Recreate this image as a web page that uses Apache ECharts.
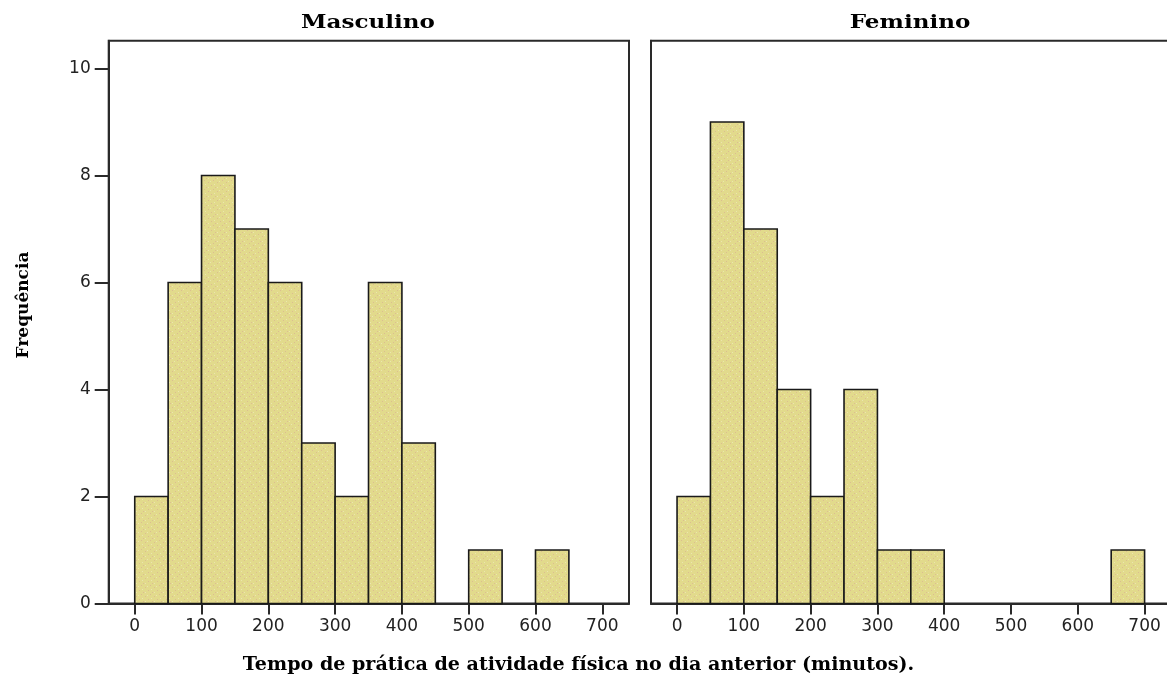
<!DOCTYPE html>
<html>
<head>
<meta charset="utf-8">
<script src="https://cdn.jsdelivr.net/npm/echarts@6/dist/echarts.min.js"></script>
<style>html,body{margin:0;padding:0;background:#fff}#c{width:1167px;height:677px}</style>
</head>
<body>
<div id="c"></div>
<script>
// ---- data ----
const panelTitles = ['Masculino', 'Feminino'];
const binLow  = [0, 50, 100, 150, 200, 250, 300, 350, 400, 450, 500, 550, 600, 650];
const binHigh = [50, 100, 150, 200, 250, 300, 350, 400, 450, 500, 550, 600, 650, 700];
const countsMasculino = [2, 6, 8, 7, 6, 3, 2, 6, 3, 0, 1, 0, 1, 0];
const countsFeminino  = [2, 9, 7, 4, 2, 4, 1, 1, 0, 0, 0, 0, 0, 1];
const xTicks = [0, 100, 200, 300, 400, 500, 600, 700];
const yTicks = [0, 2, 4, 6, 8, 10];
const xTitle = 'Tempo de prática de atividade física no dia anterior (minutos).';
const yTitle = 'Frequência';

// ---- pattern fill (dotted yellow) ----
function makePattern() {
  const cv = document.createElement('canvas');
  cv.width = 9; cv.height = 9;
  const g = cv.getContext('2d');
  g.fillStyle = 'rgb(226,218,140)';
  g.fillRect(0, 0, 9, 9);
  g.fillStyle = 'rgba(215,165,150,0.55)';
  g.fillRect(1, 2, 1, 1);
  g.fillRect(6, 0, 1, 1);
  g.fillRect(4, 5, 1, 1);
  g.fillRect(8, 7, 1, 1);
  g.fillStyle = 'rgba(240,235,190,0.7)';
  g.fillRect(3, 1, 1, 1);
  g.fillRect(7, 4, 1, 1);
  g.fillRect(1, 7, 1, 1);
  return cv;
}
const pattern = { image: makePattern(), repeat: 'repeat' };

function toData(counts) {
  const out = [];
  for (let i = 0; i < counts.length; i++) {
    if (counts[i] > 0) out.push([binLow[i], binHigh[i], counts[i]]);
  }
  return out;
}

function renderItem(params, api) {
  const p0 = api.coord([api.value(0), 0]);
  const p1 = api.coord([api.value(1), api.value(2)]);
  return {
    type: 'rect',
    shape: { x: p0[0], y: p1[1], width: p1[0] - p0[0], height: p0[1] - p1[1] },
    style: { fill: pattern, stroke: '#1a1a1a', lineWidth: 1.6 }
  };
}

const xMin = -39, xMax = 740, yMax = 10.52;
const gridTop = 40.7, gridH = 562.8;
const labelFont = { fontFamily: 'DejaVu Sans', fontSize: 17, color: '#222' };
const borderColor = '#2a2a2a';

function xAxis(gi) {
  return {
    type: 'value', gridIndex: gi, min: xMin, max: xMax,
    splitLine: { show: false },
    axisLine: { show: true, onZero: false, lineStyle: { color: borderColor, width: 2 } },
    axisTick: { show: true, customValues: xTicks, length: 11, lineStyle: { color: borderColor, width: 2 } },
    axisLabel: Object.assign({ customValues: xTicks, margin: 15 }, labelFont)
  };
}
function yAxis(gi, showTicks) {
  return {
    type: 'value', gridIndex: gi, min: 0, max: yMax,
    splitLine: { show: false },
    axisLine: { show: true, onZero: false, lineStyle: { color: borderColor, width: 2 } },
    axisTick: { show: showTicks, customValues: yTicks, length: 14, lineStyle: { color: borderColor, width: 2 } },
    axisLabel: Object.assign({ show: showTicks, customValues: yTicks, margin: 18 }, labelFont)
  };
}

const gridBase = { top: gridTop, width: 520.3, height: gridH, show: true, borderColor: borderColor, borderWidth: 2, backgroundColor: '#fff', containLabel: false, outerBoundsMode: 'none' };

const chart = echarts.init(document.getElementById('c'), null, { renderer: 'canvas' });
chart.setOption({
  animation: false,
  backgroundColor: '#fff',
  grid: [
    Object.assign({ left: 108.7 }, gridBase),
    Object.assign({ left: 651 }, gridBase)
  ],
  xAxis: [xAxis(0), xAxis(1)],
  yAxis: [yAxis(0, true), yAxis(1, false)],
  series: [
    { type: 'custom', name: panelTitles[0], xAxisIndex: 0, yAxisIndex: 0, renderItem, data: toData(countsMasculino), encode: { x: [0, 1], y: 2 } },
    { type: 'custom', name: panelTitles[1], xAxisIndex: 1, yAxisIndex: 1, renderItem, data: toData(countsFeminino), encode: { x: [0, 1], y: 2 } }
  ],
  graphic: [
    { type: 'text', x: 368, y: 23, scaleX: 1.28, style: { text: panelTitles[0], x: 0, y: 0, textAlign: 'center', textVerticalAlign: 'middle', font: 'bold 18px "DejaVu Serif"', fill: '#000' } },
    { type: 'text', x: 910, y: 23, scaleX: 1.28, style: { text: panelTitles[1], x: 0, y: 0, textAlign: 'center', textVerticalAlign: 'middle', font: 'bold 18px "DejaVu Serif"', fill: '#000' } },
    { type: 'text', x: 578.5, y: 665, scaleX: 1.06, style: { text: xTitle, x: 0, y: 0, textAlign: 'center', textVerticalAlign: 'middle', font: 'bold 18px "DejaVu Serif"', fill: '#000' } },
    { type: 'text', x: 24, y: 305, rotation: Math.PI / 2, style: { text: yTitle, x: 0, y: 0, textAlign: 'center', textVerticalAlign: 'middle', font: 'bold 17px "DejaVu Serif"', fill: '#000' } }
  ]
});
</script>
</body>
</html>
